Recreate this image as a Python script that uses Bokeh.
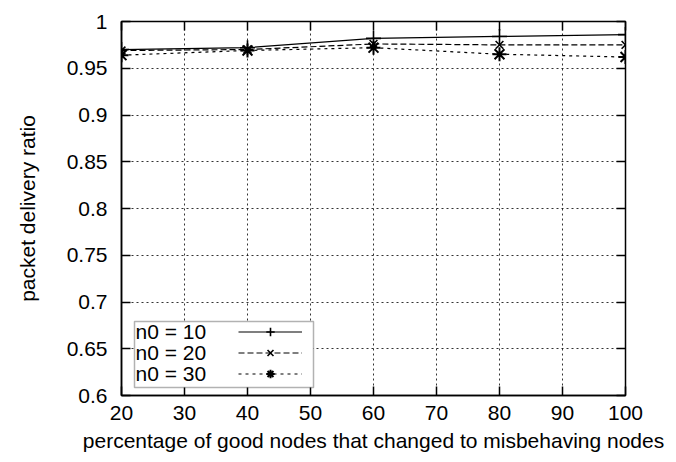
from bokeh.plotting import figure
from bokeh.models import (Range1d, FixedTicker, LinearAxis, Legend, LegendItem,
                          Label, BoxAnnotation)
from bokeh.embed import file_html
from bokeh.resources import INLINE

# data
x_pct = [20, 40, 60, 80, 100]
n0_10 = [0.970, 0.972, 0.982, 0.984, 0.986]
n0_20 = [0.969, 0.970, 0.976, 0.975, 0.975]
n0_30 = [0.964, 0.969, 0.972, 0.965, 0.962]
series_labels = ["n0 = 10", "n0 = 20", "n0 = 30"]
x_ticks = [20, 30, 40, 50, 60, 70, 80, 90, 100]
y_ticks = [0.6, 0.65, 0.7, 0.75, 0.8, 0.85, 0.9, 0.95, 1.0]
y_tick_labels = {0.6: "0.6", 0.65: "0.65", 0.7: "0.7", 0.75: "0.75", 0.8: "0.8",
                 0.85: "0.85", 0.9: "0.9", 0.95: "0.95", 1.0: "1"}

FONT = "Liberation Sans"
FS = "21px"

p = figure(width=676, height=462, output_backend="svg", toolbar_location=None,
           x_range=Range1d(20, 100), y_range=Range1d(0.6, 1.0),
           min_border_left=121, min_border_right=51, min_border_top=21,
           min_border_bottom=67)
p.outline_line_color = "black"
p.outline_line_width = 1.5
p.background_fill_color = "white"

for ax in (p.xaxis[0], p.yaxis[0]):
    ax.major_tick_in = 9
    ax.major_tick_out = 0
    ax.minor_tick_line_color = None
    ax.axis_line_color = "black"
    ax.axis_line_width = 1.5
    ax.major_tick_line_width = 1.5
    ax.major_label_text_font = FONT
    ax.major_label_text_font_size = FS
    ax.major_label_text_color = "black"
    ax.axis_label_text_font = FONT
    ax.axis_label_text_font_size = FS
    ax.axis_label_text_font_style = "normal"
    ax.axis_label_text_color = "black"

p.xaxis.ticker = FixedTicker(ticks=x_ticks)
p.yaxis.ticker = FixedTicker(ticks=y_ticks)
p.yaxis.major_label_overrides = y_tick_labels
p.xaxis.axis_label = "percentage of good nodes that changed to misbehaving nodes"
p.yaxis.axis_label = "packet delivery ratio"
p.xaxis.major_label_standoff = 10
p.xaxis.axis_label_standoff = 6
p.yaxis.major_label_standoff = 14
p.yaxis.axis_label_standoff = 25

# mirrored ticks on top and right (no labels)
for loc, tk in (("right", y_ticks), ("above", x_ticks)):
    ax = LinearAxis(ticker=FixedTicker(ticks=tk))
    ax.major_tick_in = 9
    ax.major_tick_out = 0
    ax.major_tick_line_width = 1.5
    ax.minor_tick_line_color = None
    ax.axis_line_color = None
    ax.major_label_text_font_size = "1px"
    ax.major_label_text_color = None
    ax.major_label_standoff = 0
    p.add_layout(ax, loc)

for g, tk in ((p.xgrid[0], x_ticks), (p.ygrid[0], y_ticks)):
    g.ticker = FixedTicker(ticks=tk)
    g.grid_line_color = "black"
    g.grid_line_dash = "2 3"
    g.grid_line_width = 1
    g.grid_line_alpha = 0.8

# series
l1 = p.line(x_pct, n0_10, line_color="black", line_width=1.2)
m1 = p.scatter(x_pct, n0_10, marker="cross", size=15, line_color="black", line_width=1.6)
l2 = p.line(x_pct, n0_20, line_color="black", line_width=1.2, line_dash="6 3")
m2 = p.scatter(x_pct, n0_20, marker="x", size=11, line_color="black", line_width=1.6)
l3 = p.line(x_pct, n0_30, line_color="black", line_width=1.2, line_dash="3 4")
m3 = p.scatter(x_pct, n0_30, marker="asterisk", size=14, line_color="black", line_width=2)

# legend box (gnuplot style: text left, sample right)
box = BoxAnnotation(left=13, right=192, bottom=8, top=74,
                    left_units="screen", right_units="screen",
                    bottom_units="screen", top_units="screen",
                    fill_color="white", fill_alpha=1.0,
                    line_color="black", line_width=1.5)
p.add_layout(box)

legend = Legend(items=[LegendItem(label=" ", renderers=[l1, m1]),
                       LegendItem(label=" ", renderers=[l2, m2]),
                       LegendItem(label=" ", renderers=[l3, m3])],
                location=(117, 11), padding=0, margin=0, spacing=0,
                glyph_width=64, glyph_height=21, label_height=21,
                label_standoff=0, label_width=1,
                label_text_font_size="1px", label_text_color=None,
                border_line_color=None, background_fill_alpha=0)
p.add_layout(legend, "center")

for i, txt in enumerate(series_labels):
    p.add_layout(Label(x=14, y=64 - 21 * i, x_units="screen", y_units="screen",
                       text=txt, text_baseline="middle", text_align="left",
                       text_font=FONT, text_font_size=FS, text_color="black"))

open("out.html", "w").write(file_html(p, INLINE))
